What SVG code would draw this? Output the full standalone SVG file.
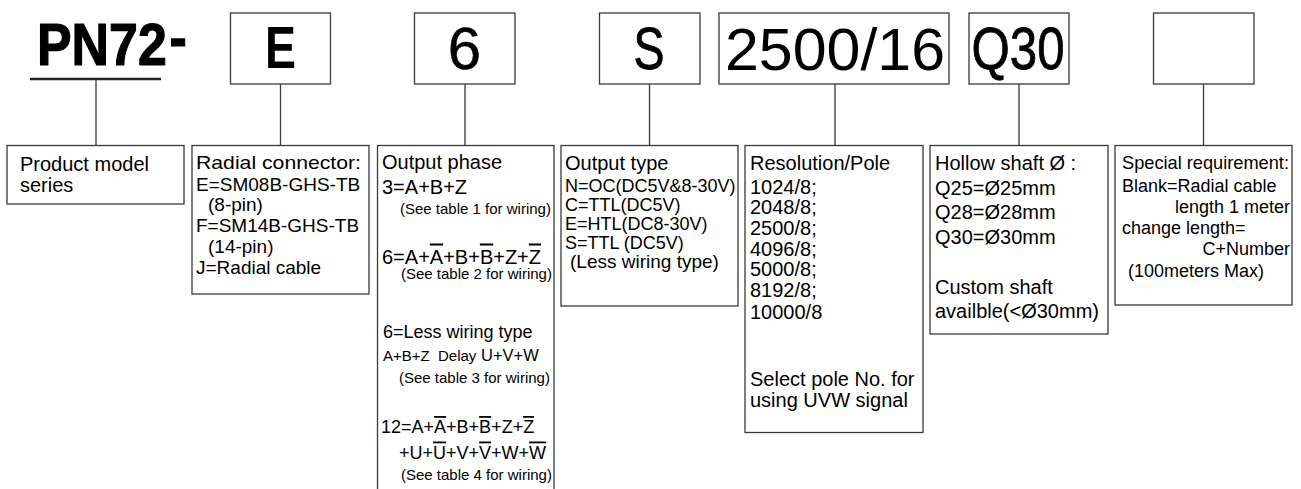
<svg xmlns="http://www.w3.org/2000/svg" width="1301" height="489" viewBox="0 0 1301 489">
<style>
  .bx{fill:#fff;stroke:#3a3a3a;stroke-width:1.3}
  .ln{stroke:#3a3a3a;stroke-width:1.3;fill:none}
  .t{font-family:"Liberation Sans",Arial,sans-serif;fill:#000;font-size:19px}
  .t20{font-size:20px}
  .t18{font-size:18px}
  .sm{font-size:15px}
  .hd{font-family:"Liberation Sans",Arial,sans-serif;fill:#000;font-size:60px}
  .ov{text-decoration:overline}
</style>
<rect width="1301" height="489" fill="#fff"/>

<g id="connectors">
  <line class="ln" x1="96" y1="79" x2="96" y2="145.5"/>
  <line class="ln" x1="280.5" y1="84" x2="280.5" y2="145.5"/>
  <line class="ln" x1="465" y1="84" x2="465" y2="145.5"/>
  <line class="ln" x1="649.5" y1="84" x2="649.5" y2="145.5"/>
  <line class="ln" x1="835" y1="84" x2="835" y2="145.5"/>
  <line class="ln" x1="1019" y1="84" x2="1019" y2="145.5"/>
  <line class="ln" x1="1203.5" y1="84" x2="1203.5" y2="145.5"/>
</g>

<g id="code-pn72">
  <text class="hd" transform="translate(37,65) scale(0.865,1)" x="0" y="0" dx="0 0 0 0 3" dy="0 0 0 0 -7" font-size="56" font-weight="bold" stroke="#000" stroke-width="1.2">PN72-</text>
  <line x1="30" y1="79" x2="161" y2="79" stroke="#222" stroke-width="2.6"/>
</g>
<g id="code-e">
  <rect class="bx" x="230.5" y="13" width="100" height="71"/>
  <text class="hd" x="280.5" y="68" text-anchor="middle" font-weight="bold" textLength="31" lengthAdjust="spacingAndGlyphs">E</text>
</g>
<g id="code-6">
  <rect class="bx" x="414.5" y="13" width="100.5" height="71"/>
  <text class="hd" x="464.5" y="69" text-anchor="middle" stroke="#000" stroke-width="0.5">6</text>
</g>
<g id="code-s">
  <rect class="bx" x="599.5" y="13" width="100.5" height="71"/>
  <text class="hd" x="649" y="69" text-anchor="middle" textLength="31" lengthAdjust="spacingAndGlyphs" stroke="#000" stroke-width="0.8">S</text>
</g>
<g id="code-2500">
  <rect class="bx" x="719" y="13" width="230" height="71"/>
  <text class="hd" x="835" y="70" text-anchor="middle" textLength="220" lengthAdjust="spacingAndGlyphs">2500/16</text>
</g>
<g id="code-q30">
  <rect class="bx" x="969" y="13" width="100" height="71"/>
  <text class="hd" x="1018" y="69" text-anchor="middle" textLength="93" lengthAdjust="spacingAndGlyphs" stroke="#000" stroke-width="0.8">Q30</text>
</g>
<g id="code-blank">
  <rect class="bx" x="1153.5" y="13" width="100.5" height="71"/>
</g>

<g id="box-series">
  <rect class="bx" x="7" y="145.5" width="177" height="58.5"/>
  <text class="t t20" x="20" y="171">Product model</text>
  <text class="t t20" x="20" y="192">series</text>
</g>

<g id="box-connector">
  <rect class="bx" x="192" y="145.5" width="177" height="148.5"/>
  <text class="t" x="196" y="169" font-size="20.5" textLength="165" lengthAdjust="spacingAndGlyphs">Radial connector:</text>
  <text class="t" x="196" y="190.5">E=SM08B-GHS-TB</text>
  <text class="t" x="208" y="211" font-size="16.5">(8-pin)</text>
  <text class="t" x="196" y="232">F=SM14B-GHS-TB</text>
  <text class="t" x="208" y="253" font-size="16.5">(14-pin)</text>
  <text class="t" x="196" y="274" font-size="17.6">J=Radial cable</text>
</g>

<g id="box-phase">
  <rect class="bx" x="377.5" y="145.5" width="176.5" height="360"/>
  <text class="t t20" x="382" y="169">Output phase</text>
  <text class="t t20" x="382" y="194">3=A+B+Z</text>
  <text class="t sm" x="400" y="214">(See table 1 for wiring)</text>
  <text class="t t20" x="382" y="263.5">6=A+<tspan class="ov">A</tspan>+B+<tspan class="ov">B</tspan>+Z+<tspan class="ov">Z</tspan></text>
  <text class="t sm" x="401" y="279">(See table 2 for wiring)</text>
  <text class="t t18" x="383" y="337.5">6=Less wiring type</text>
  <text class="t sm" x="383" y="361">A+B+Z <tspan x="438">Delay </tspan><tspan x="481" font-size="16.5">U+V+W</tspan></text>
  <text class="t sm" x="399" y="382.5">(See table 3 for wiring)</text>
  <text class="t t18" x="381" y="433">12=A+<tspan class="ov">A</tspan>+B+<tspan class="ov">B</tspan>+Z+<tspan class="ov">Z</tspan></text>
  <text class="t t18" x="399" y="458.5">+U+<tspan class="ov">U</tspan>+V+<tspan class="ov">V</tspan>+W+<tspan class="ov">W</tspan></text>
  <text class="t sm" x="401" y="480">(See table 4 for wiring)</text>
</g>

<g id="box-output">
  <rect class="bx" x="561" y="145.5" width="177" height="160.5"/>
  <text class="t t20" x="565" y="169.5">Output type</text>
  <text class="t t18" x="565" y="191.5">N=OC(DC5V&amp;8-30V)</text>
  <text class="t t18" x="565" y="211">C=TTL(DC5V)</text>
  <text class="t t18" x="565" y="230">E=HTL(DC8-30V)</text>
  <text class="t t18" x="565" y="248.5">S=TTL (DC5V)</text>
  <text class="t" x="570" y="267.5" font-size="17">(Less wiring type)</text>
</g>

<g id="box-resolution">
  <rect class="bx" x="745" y="145.5" width="178" height="287"/>
  <text class="t t20" x="750" y="169.5">Resolution/Pole</text>
  <text class="t t20" x="750" y="193.5">1024/8;</text>
  <text class="t t20" x="750" y="214">2048/8;</text>
  <text class="t t20" x="750" y="234.5">2500/8;</text>
  <text class="t t20" x="750" y="255.5">4096/8;</text>
  <text class="t t20" x="750" y="276">5000/8;</text>
  <text class="t t20" x="750" y="297">8192/8;</text>
  <text class="t t20" x="750" y="318.5">10000/8</text>
  <text class="t t20" x="750" y="386">Select pole No. for</text>
  <text class="t t20" x="750" y="407">using UVW signal</text>
</g>

<g id="box-shaft">
  <rect class="bx" x="930" y="145.5" width="178" height="188.5"/>
  <text class="t t20" x="935" y="170">Hollow shaft Ø :</text>
  <text class="t t20" x="935" y="194.5">Q25=Ø25mm</text>
  <text class="t t20" x="935" y="219">Q28=Ø28mm</text>
  <text class="t t20" x="935" y="243.5">Q30=Ø30mm</text>
  <text class="t t20" x="935" y="293.5">Custom shaft</text>
  <text class="t t20" x="935" y="317.5">availble(&lt;Ø30mm)</text>
</g>

<g id="box-special">
  <rect class="bx" x="1115" y="145.5" width="177" height="159.5"/>
  <text class="t" x="1122" y="169" font-size="18.2" textLength="167" lengthAdjust="spacingAndGlyphs">Special requirement:</text>
  <text class="t t18" x="1122" y="191.5">Blank=Radial cable</text>
  <text class="t t18" x="1290" y="212.5" text-anchor="end">length 1 meter</text>
  <text class="t t18" x="1122" y="234">change length=</text>
  <text class="t t18" x="1290" y="255" text-anchor="end">C+Number</text>
  <text class="t t18" x="1128" y="276.5">(100meters Max)</text>
</g>
</svg>
